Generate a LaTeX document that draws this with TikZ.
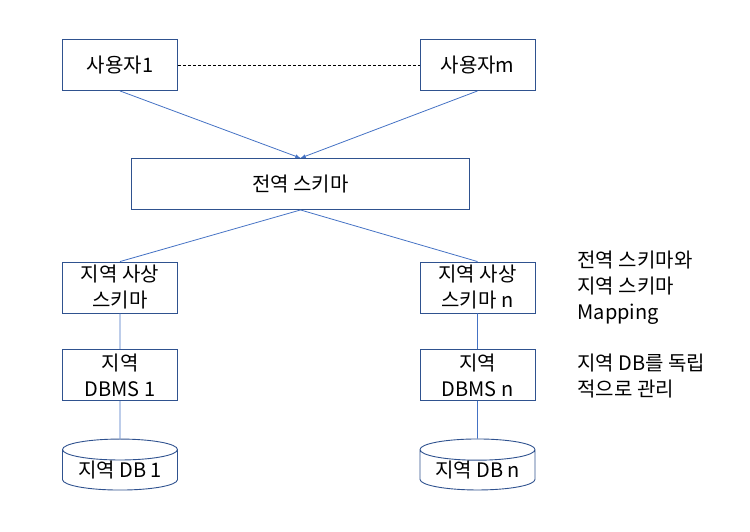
\documentclass[tikz,border=0pt]{standalone}
\usepackage{fontspec}
\setmainfont{Noto Sans CJK KR}
\usetikzlibrary{arrows}
\usetikzlibrary{shapes.geometric}

\definecolor{boxline}{RGB}{47,82,143}
\definecolor{linkline}{RGB}{68,114,196}

\begin{document}
\begin{tikzpicture}[x=1pt,y=-1pt,
		font=\fontsize{20}{26}\selectfont,
		box/.style={draw=boxline, line width=0.9pt, minimum height=51pt,
			align=center, inner sep=0pt},
		smallbox/.style={box, minimum width=115pt},
		dbdisk/.style={cylinder, shape border rotate=90, draw=boxline,
			line width=0.9pt, minimum height=51pt, minimum width=115pt,
			aspect=0.25, inner sep=0pt},
		link/.style={draw=linkline, line width=0.8pt},
		note/.style={anchor=west, align=left}]
		\useasboundingbox (0,0) rectangle (750,531);
		%% Users and global schema
		\node[smallbox] (user1) at (120,65) {사용자1};
		\node[smallbox] (userm) at (477.5,65) {사용자m};
		\node[box, minimum width=338pt] (global) at (300.5,184) {전역 스키마};
		\draw[dashed, line width=0.8pt, dash pattern=on 3pt off 2pt]
			(user1) -- (userm);
		\draw[link, -latex] (user1.south) -- (global.north);
		\draw[link, -latex] (userm.south) -- (global.north);
		%% Local side, left
		\node[smallbox] (map1) at (120,287.5) {지역 사상\\스키마};
		\node[smallbox] (dbms1) at (120,375) {지역\\DBMS 1};
		\node[dbdisk] (db1) at (120,470) {지역 DB 1};
		%% Local side, right
		\node[smallbox] (mapn) at (477.5,287.5) {지역 사상\\스키마 n};
		\node[smallbox] (dbmsn) at (477.5,375) {지역\\DBMS n};
		\node[dbdisk] (dbn) at (477.5,470) {지역 DB n};
		\draw[link] (map1.north) -- (global.south) -- (mapn.north);
		\draw[link] (map1) -- (dbms1) -- (db1);
		\draw[link] (mapn) -- (dbmsn) -- (dbn);
		%% Notes
		\node[note] (mapnote) at (574,288) {전역 스키마와\\지역 스키마\\Mapping};
		\node[note] (dbnote) at (574,376) {지역 DB를 독립\\적으로 관리};
	\end{tikzpicture}
\end{document}
